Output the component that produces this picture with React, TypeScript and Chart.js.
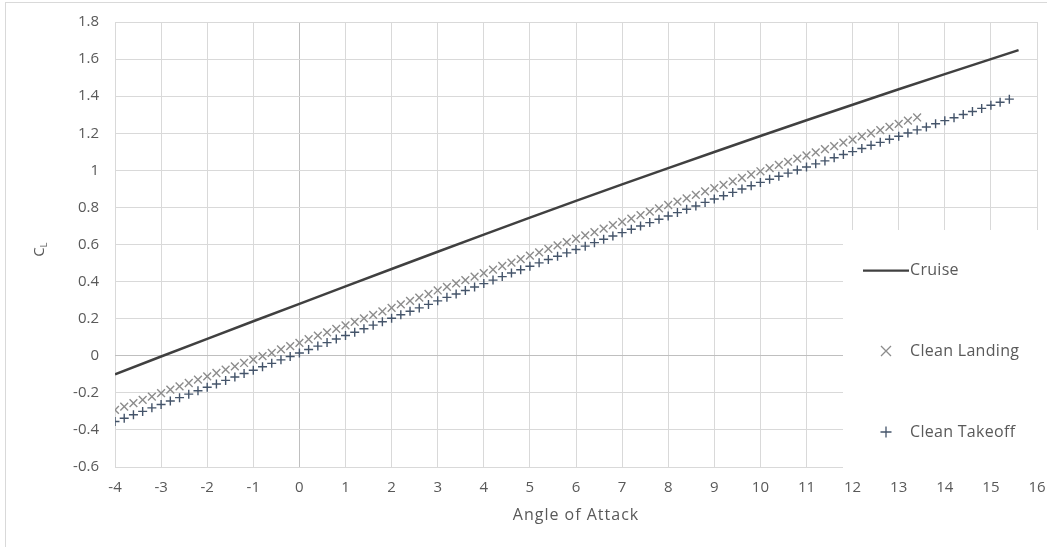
import React, { useEffect, useRef } from "react";
import { Chart, registerables } from "chart.js";

Chart.register(...registerables);

// Sampling grid of the marker series (degrees)
const ANGLE_START = -4;
const ANGLE_STEP = 0.2;

// Cruise lift curve
const cruiseAngles = [-4, -3, -2, -1, 0, 1, 2, 3, 4, 5, 6, 7, 8, 9, 10, 11, 12, 13, 14, 15, 15.6];
const cruiseCl = [-0.10, -0.004, 0.091, 0.186, 0.28, 0.374, 0.468, 0.561, 0.653, 0.745, 0.835, 0.924, 1.012, 1.099, 1.185, 1.27, 1.354, 1.437, 1.519, 1.60, 1.648];

// Clean Landing (-4 .. 13.4 deg, every 0.2 deg)
const landingCl = [
  -0.292, -0.274, -0.256, -0.238, -0.220, -0.202, -0.183, -0.165, -0.147, -0.129,
  -0.111, -0.093, -0.075, -0.057, -0.039, -0.021, -0.002, 0.016, 0.034, 0.052,
  0.070, 0.089, 0.108, 0.126, 0.145, 0.164, 0.183, 0.202, 0.220, 0.239,
  0.258, 0.277, 0.296, 0.314, 0.333, 0.352, 0.371, 0.390, 0.408, 0.427,
  0.446, 0.465, 0.484, 0.502, 0.521, 0.540, 0.558, 0.576, 0.595, 0.613,
  0.631, 0.649, 0.667, 0.686, 0.704, 0.722, 0.740, 0.758, 0.777, 0.795,
  0.813, 0.831, 0.849, 0.868, 0.886, 0.904, 0.922, 0.940, 0.959, 0.977,
  0.995, 1.012, 1.029, 1.046, 1.063, 1.080, 1.097, 1.114, 1.131, 1.149,
  1.166, 1.183, 1.200, 1.217, 1.234, 1.251, 1.268, 1.285,
];

// Clean Takeoff (-4 .. 15.4 deg, every 0.2 deg)
const takeoffCl = [
  -0.355, -0.337, -0.318, -0.300, -0.281, -0.263, -0.244, -0.226, -0.207, -0.189,
  -0.170, -0.152, -0.133, -0.115, -0.096, -0.078, -0.059, -0.041, -0.022, -0.004,
  0.015, 0.034, 0.052, 0.071, 0.090, 0.109, 0.127, 0.146, 0.165, 0.183,
  0.202, 0.221, 0.240, 0.258, 0.277, 0.296, 0.315, 0.333, 0.352, 0.371,
  0.389, 0.408, 0.427, 0.446, 0.464, 0.483, 0.501, 0.519, 0.537, 0.555,
  0.573, 0.591, 0.610, 0.628, 0.646, 0.664, 0.682, 0.700, 0.718, 0.736,
  0.754, 0.772, 0.790, 0.808, 0.827, 0.845, 0.863, 0.881, 0.899, 0.917,
  0.935, 0.952, 0.968, 0.985, 1.002, 1.018, 1.035, 1.051, 1.068, 1.085,
  1.101, 1.118, 1.135, 1.151, 1.168, 1.184, 1.201, 1.218, 1.234, 1.251,
  1.268, 1.284, 1.301, 1.317, 1.334, 1.351, 1.367, 1.384,
];

const seriesNames = ["Cruise", "Clean Landing", "Clean Takeoff"];
const xTitle = "Angle of Attack";
const yTitleMain = "C";
const yTitleSub = "L";

const FONT = "'Open Sans', Lato, sans-serif";
const TEXT = "#595959";
const CRUISE_COLOR = "#404040";
const LANDING_COLOR = "#8c8c8c";
const TAKEOFF_COLOR = "#44546a";

const toPoints = (vals: number[]) =>
  vals.map((y, i) => ({ x: Math.round((ANGLE_START + i * ANGLE_STEP) * 10) / 10, y }));

const decorPlugin = {
  id: "decor",
  beforeDatasetsDraw(chart: any) {
    const { ctx, chartArea } = chart;
    ctx.save();
    // legend box covering part of the plot
    ctx.fillStyle = "#ffffff";
    ctx.fillRect(843, 230, chart.width - 843, chartArea.bottom + 2 - 230);
    ctx.restore();
  },
  afterDraw(chart: any) {
    const { ctx, chartArea } = chart;
    ctx.save();
    // outer border
    ctx.strokeStyle = "#d9d9d9";
    ctx.lineWidth = 1;
    ctx.strokeRect(5.5, 2.5, 1100, 600);

    // legend
    ctx.font = `16px ${FONT}`;
    (ctx as any).letterSpacing = "0.3px";
    ctx.fillStyle = TEXT;
    ctx.textBaseline = "middle";
    ctx.textAlign = "left";
    // Cruise
    ctx.strokeStyle = CRUISE_COLOR;
    ctx.lineWidth = 2.25;
    ctx.beginPath();
    ctx.moveTo(863, 270.5);
    ctx.lineTo(909, 270.5);
    ctx.stroke();
    ctx.fillText(seriesNames[0], 910, 270);
    // Landing
    ctx.strokeStyle = LANDING_COLOR;
    ctx.lineWidth = 1.3;
    const r = 5;
    const lx = 886, ly = 351;
    ctx.beginPath();
    ctx.moveTo(lx - r, ly - r);
    ctx.lineTo(lx + r, ly + r);
    ctx.moveTo(lx - r, ly + r);
    ctx.lineTo(lx + r, ly - r);
    ctx.stroke();
    ctx.fillText(seriesNames[1], 910, 351);
    // Takeoff
    ctx.strokeStyle = TAKEOFF_COLOR;
    ctx.lineWidth = 1.3;
    const tx = 886, ty = 432, p = 5.5;
    ctx.beginPath();
    ctx.moveTo(tx - p, ty);
    ctx.lineTo(tx + p, ty);
    ctx.moveTo(tx, ty - p);
    ctx.lineTo(tx, ty + p);
    ctx.stroke();
    ctx.fillText(seriesNames[2], 910, 432);

    // x title
    ctx.textAlign = "center";
    ctx.font = `16px ${FONT}`;
    (ctx as any).letterSpacing = "1px";
    ctx.fillText(xTitle, (chartArea.left + chartArea.right) / 2, 515);
    (ctx as any).letterSpacing = "0px";

    // y title C_L rotated
    ctx.translate(40, 250);
    ctx.rotate(-Math.PI / 2);
    ctx.textAlign = "left";
    ctx.font = `15px ${FONT}`;
    const w = ctx.measureText(yTitleMain).width;
    ctx.fillText(yTitleMain, -w / 2 - 2, 0);
    ctx.font = `9px ${FONT}`;
    ctx.fillText(yTitleSub, w / 2 - 2, 4);
    ctx.restore();
  },
};

export default function App() {
  const canvasRef = useRef<HTMLCanvasElement | null>(null);

  useEffect(() => {
    document.body.style.margin = "0";
    const canvas = canvasRef.current;
    if (!canvas) return;
    const gridColor = (c: any) =>
      c.tick && Math.abs(c.tick.value) < 1e-9 ? "#bfbfbf" : "#d9d9d9";
    const chart = new Chart(canvas, {
      type: "scatter",
      data: {
        datasets: [
          {
            label: seriesNames[0],
            data: cruiseAngles.map((x, i) => ({ x, y: cruiseCl[i] })),
            showLine: true,
            borderColor: CRUISE_COLOR,
            backgroundColor: CRUISE_COLOR,
            borderWidth: 2.5,
            pointRadius: 0,
            tension: 0,
          },
          {
            label: seriesNames[1],
            data: toPoints(landingCl),
            pointStyle: "crossRot",
            pointRadius: 5.5,
            pointBorderWidth: 1.4,
            borderColor: LANDING_COLOR,
            backgroundColor: LANDING_COLOR,
          },
          {
            label: seriesNames[2],
            data: toPoints(takeoffCl),
            pointStyle: "cross",
            pointRadius: 4.5,
            pointBorderWidth: 1.4,
            borderColor: TAKEOFF_COLOR,
            backgroundColor: TAKEOFF_COLOR,
          },
        ],
      },
      options: {
        animation: false,
        responsive: false,
        devicePixelRatio: 1,
        layout: { padding: { top: 22, right: 10, left: 0, bottom: 0 } },
        plugins: {
          legend: { display: false },
          tooltip: { enabled: false },
        },
        scales: {
          x: {
            type: "linear",
            min: -4,
            max: 16,
            border: { display: false },
            grid: { color: gridColor, lineWidth: 1, drawTicks: false },
            ticks: {
              stepSize: 1,
              padding: 12,
              color: TEXT,
              font: { family: FONT, size: 15 },
              maxRotation: 0,
              callback: (v: any) => String(Math.round(Number(v))),
            },
            afterFit: (s: any) => {
              s.height = 80;
              s.paddingLeft = 0;
              s.paddingRight = 0;
            },
          },
          y: {
            type: "linear",
            min: -0.6,
            max: 1.8,
            border: { display: false },
            grid: { color: gridColor, lineWidth: 1, drawTicks: false },
            ticks: {
              stepSize: 0.2,
              padding: 16,
              color: TEXT,
              font: { family: FONT, size: 15 },
              callback: (v: any) => String(Math.round(Number(v) * 10) / 10),
            },
            afterFit: (s: any) => {
              s.width = 115;
              s.paddingTop = 0;
              s.paddingBottom = 0;
            },
          },
        },
      },
      plugins: [decorPlugin],
    });
    return () => chart.destroy();
  }, []);

  return (
    <div style={{ width: 1047, height: 547, background: "#fff", position: "relative" }}>
      <canvas ref={canvasRef} width={1047} height={547} style={{ display: "block" }} />
    </div>
  );
}
